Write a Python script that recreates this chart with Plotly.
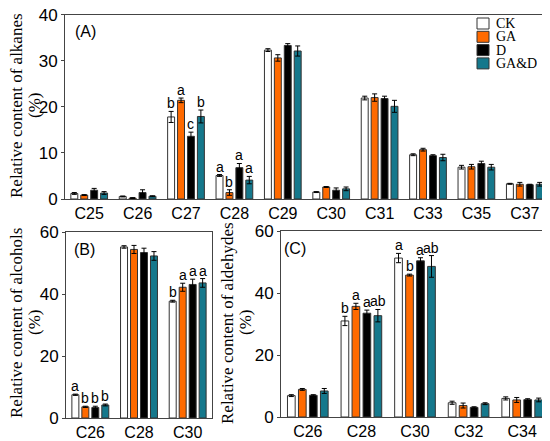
import plotly.graph_objects as go

treatments = ["CK", "GA", "D", "GA&D"]
colors = ["#FFFFFF", "#FF6A00", "#000000", "#15788C"]

# (A) alkanes
alk_cats = ["C25", "C26", "C27", "C28", "C29", "C30", "C31", "C33", "C35", "C37"]
alk_ck = [1.2, 0.55, 17.8, 5.1, 32.3, 1.5, 21.9, 9.6, 6.9, 3.3]
alk_ga = [0.85, 0.2, 21.4, 1.4, 30.6, 2.6, 22.0, 10.7, 7.0, 3.2]
alk_d = [1.9, 1.4, 13.6, 6.8, 33.3, 1.9, 21.8, 9.4, 7.7, 3.1]
alk_gad = [1.3, 0.6, 17.9, 4.1, 32.1, 2.2, 20.1, 9.0, 6.9, 3.2]
alk_ck_err = [0.2, 0.1, 1.2, 0.2, 0.3, 0.1, 0.4, 0.2, 0.4, 0.1]
alk_ga_err = [0.1, 0.1, 0.5, 0.6, 0.7, 0.1, 0.8, 0.3, 0.5, 0.4]
alk_d_err = [0.4, 0.6, 0.9, 0.9, 0.4, 0.5, 0.5, 0.2, 0.5, 0.1]
alk_gad_err = [0.3, 0.1, 1.4, 0.8, 1.1, 0.4, 1.3, 0.7, 0.6, 0.4]
alk_letters = {"C27": ["b", "a", "c", "b"], "C28": ["a", "b", "a", "a"]}
alk_ticks = [0, 10, 20, 30, 40]

# (B) alcohols
alc_cats = ["C26", "C28", "C30"]
alc_ck = [7.5, 55.2, 37.7]
alc_ga = [3.6, 54.4, 42.2]
alc_d = [3.4, 53.4, 43.1]
alc_gad = [4.2, 52.3, 43.6]
alc_ck_err = [0.2, 0.4, 0.3]
alc_ga_err = [0.2, 1.3, 1.3]
alc_d_err = [0.4, 1.4, 1.7]
alc_gad_err = [0.3, 1.4, 1.4]
alc_letters = {"C26": ["a", "b", "b", "b"], "C30": ["b", "a", "a", "a"]}

# (C) aldehydes
ald_cats = ["C26", "C28", "C30", "C32", "C34"]
ald_ck = [6.9, 31.0, 51.3, 4.6, 6.0]
ald_ga = [8.9, 35.7, 45.8, 3.7, 5.5]
ald_d = [7.0, 33.5, 50.4, 3.1, 5.6]
ald_gad = [8.4, 32.7, 48.6, 4.3, 5.5]
ald_ck_err = [0.3, 1.5, 1.5, 0.5, 0.5]
ald_ga_err = [0.3, 1.0, 0.3, 0.8, 0.8]
ald_d_err = [0.2, 1.0, 1.0, 0.2, 0.3]
ald_gad_err = [0.8, 2.0, 3.5, 0.3, 0.6]
ald_letters = {"C28": ["b", "a", "a", "ab"], "C30": ["a", "b", "a", "ab"]}
pct_ticks = [0, 20, 40, 60]

BARGAP = 0.18
sans = "Liberation Sans, Arial, sans-serif"
serif = "Liberation Serif, Times New Roman, serif"

# the page body keeps its 8px default margin, so the figure is a bit smaller
# and every position below is given in screen pixels minus that offset
OFF = 8
W, H = 550 - OFF, 441 - OFF


def px(x):
    return (x - OFF) / W


def py(y):
    return 1 - (y - OFF) / H


fig = go.Figure()


def add_panel(cats, vals, errs, letters, xa, ya):
    for i, name in enumerate(treatments):
        fig.add_trace(go.Bar(
            x=cats, y=vals[i], name=name, xaxis=xa, yaxis=ya,
            marker=dict(color=colors[i], line=dict(color="#333333", width=1)),
            error_y=dict(type="data", array=errs[i], color="#000000",
                         thickness=1, width=2.5),
            showlegend=False,
        ))
    slot = (1 - BARGAP) / 4
    for cat, labs in letters.items():
        k = cats.index(cat)
        for i, lab in enumerate(labs):
            fig.add_annotation(
                x=k - (1 - BARGAP) / 2 + (i + 0.5) * slot,
                y=vals[i][k] + errs[i][k], text=lab, showarrow=False,
                xref=xa, yref=ya, yanchor="bottom", yshift=-2,
                font=dict(family=sans, size=14, color="#000000"))


add_panel(alk_cats, [alk_ck, alk_ga, alk_d, alk_gad],
          [alk_ck_err, alk_ga_err, alk_d_err, alk_gad_err], alk_letters, "x", "y")
add_panel(alc_cats, [alc_ck, alc_ga, alc_d, alc_gad],
          [alc_ck_err, alc_ga_err, alc_d_err, alc_gad_err], alc_letters, "x2", "y2")
add_panel(ald_cats, [ald_ck, ald_ga, ald_d, ald_gad],
          [ald_ck_err, ald_ga_err, ald_d_err, ald_gad_err], ald_letters, "x3", "y3")

xstyle = dict(showline=True, mirror=True, linecolor="#444444", linewidth=1,
              ticks="", showgrid=False, tickfont=dict(family=sans, size=16, color="#000000"))
ystyle = dict(showline=True, mirror=True, linecolor="#444444", linewidth=1,
              ticks="outside", ticklen=3, tickcolor="#444444", showgrid=False,
              zeroline=False, tickmode="array", ticklabeloverflow="allow",
              tickfont=dict(family=sans, size=17, color="#000000"))

fig.update_layout(
    width=W, height=H,
    margin=dict(l=0, r=0, t=0, b=0, autoexpand=False),
    paper_bgcolor="white", plot_bgcolor="white",
    barmode="group", bargap=BARGAP, bargroupgap=0.3,
    xaxis=dict(domain=[px(65), px(549)], anchor="y", **xstyle),
    yaxis=dict(domain=[py(199), py(14.5)], anchor="x", range=[0, 40.02],
               tickvals=alk_ticks, **ystyle),
    xaxis2=dict(domain=[px(66), px(212)], anchor="y2", **xstyle),
    yaxis2=dict(domain=[py(418), py(232)], anchor="x2", range=[0, 60.03],
                tickvals=pct_ticks, **ystyle),
    xaxis3=dict(domain=[px(281), px(549)], anchor="y3", **xstyle),
    yaxis3=dict(domain=[py(417), py(231)], anchor="x3", range=[0, 60.03],
                tickvals=pct_ticks, **ystyle),
    showlegend=False,
)

# legend drawn as small boxes with serif labels (top right of panel A)
for i, name in enumerate(treatments):
    top = 18 + i * 13.3
    fig.add_shape(type="rect", xref="paper", yref="paper",
                  x0=px(477), x1=px(489), y0=py(top + 11), y1=py(top),
                  fillcolor=colors[i], line=dict(color="#333333", width=1))
    fig.add_annotation(text=name, x=px(495), y=py(top + 5.5),
                       xref="paper", yref="paper", showarrow=False,
                       xanchor="left", yanchor="middle", borderpad=0, height=13,
                       font=dict(family=serif, size=14, color="#000000"))

# panel labels
for txt, xr, yr, dx in [("(A)", "x domain", "y domain", 0.017),
                        ("(B)", "x2 domain", "y2 domain", 0.04),
                        ("(C)", "x3 domain", "y3 domain", 0.005)]:
    fig.add_annotation(text=txt, x=dx, y=0.965, xref=xr, yref=yr, showarrow=False,
                       xanchor="left", yanchor="top",
                       font=dict(family=sans, size=16, color="#000000"))

# y axis titles, one rotated annotation per line
for txt, xp, yp in [("Relative content of alkanes", 16, 106), ("(%)", 34, 106),
                    ("Relative content of alcohols", 16, 323), ("(%)", 34, 323),
                    ("Relative content of aldehydes", 227, 323), ("(%)", 245, 323)]:
    fig.add_annotation(text=txt, x=px(xp), y=py(yp), xref="paper", yref="paper",
                       showarrow=False, textangle=-90,
                       xanchor="center", yanchor="middle",
                       font=dict(family=serif, size=17, color="#000000"))

fig.write_html("out.html")
